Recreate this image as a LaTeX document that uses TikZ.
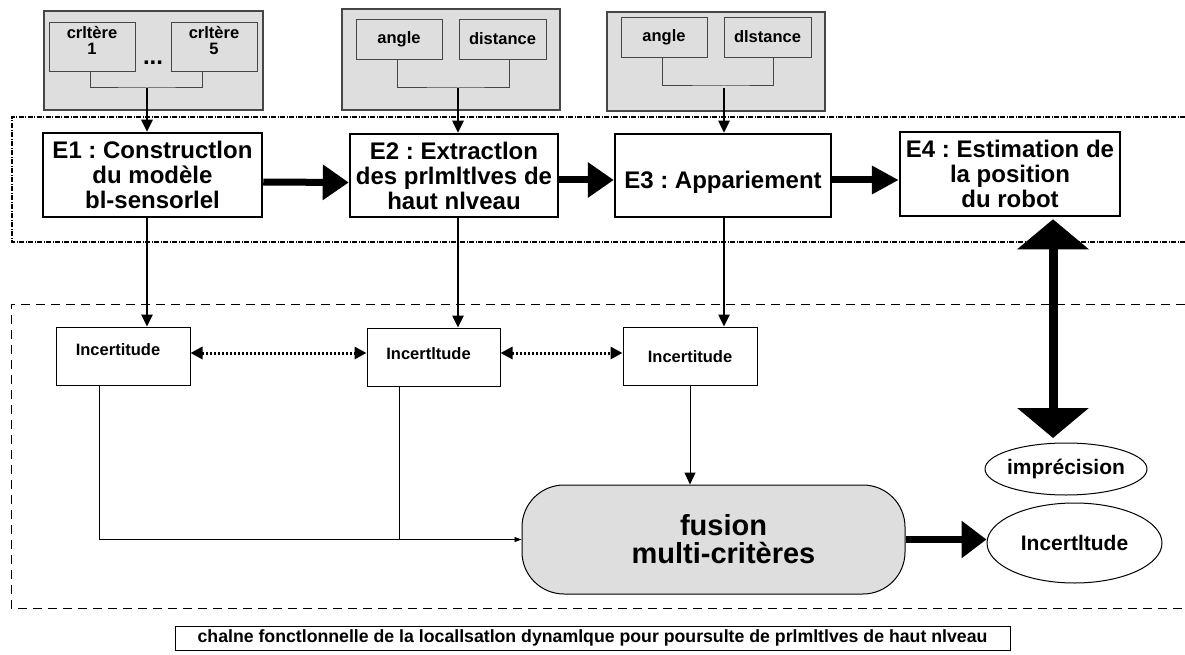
\documentclass[tikz,border=0pt]{standalone}
\usepackage{fontspec}
\setmainfont{Liberation Sans}
\usetikzlibrary{arrows.meta,shapes.geometric}
\definecolor{panelgray}{RGB}{222,222,222}
\definecolor{edgegray}{RGB}{70,70,70}
\begin{document}
\frenchspacing
\begin{tikzpicture}[x=1pt,y=-1pt,
  panel/.style={draw=edgegray,fill=panelgray,line width=1.2pt,inner sep=0pt},
  param/.style={draw=edgegray,fill=panelgray,line width=0.9pt,inner sep=0pt,align=center,
    font=\bfseries\fontsize{16.5}{17}\selectfont},
  stage/.style={draw,line width=2.5pt,fill=white,inner sep=0pt,align=center,
    font=\bfseries\fontsize{24}{25}\selectfont},
  unc/.style={draw,line width=1pt,fill=white,inner sep=0pt,minimum width=134pt,minimum height=58pt,
    font=\bfseries\fontsize{16.5}{17}\selectfont},
  oval/.style={draw,ellipse,line width=1pt,inner xsep=-12pt,inner ysep=0pt,
    font=\bfseries\fontsize{21}{21}\selectfont},
  link/.style={draw=edgegray,line width=1pt},
  feed/.style={line width=2.5pt,-{Triangle[length=12pt,width=11pt]}},
  flow/.style={line width=7pt,-{Triangle[length=26pt,width=34pt]}},
  dots/.style={line width=3pt,dash pattern=on 2.5pt off 1.5pt,
    {Triangle[length=12pt,width=12pt]}-{Triangle[length=12pt,width=12pt]}},
  merge/.style={line width=0.8pt,-{Triangle[length=7pt,width=5pt]}},
  feedthin/.style={line width=1pt,-{Triangle[length=12pt,width=11pt]}},
  bigflow/.style={line width=9pt,{Triangle[length=30pt,width=70pt]}-{Triangle[length=30pt,width=70pt]}},
  stagezone/.style={line width=1.1pt,dash pattern=on 5pt off 1.5pt on 1pt off 1.5pt},
  fusezone/.style={line width=0.8pt,dash pattern=on 9pt off 6pt}
]
\useasboundingbox (0,0) rectangle (1185,655);

% zones
\draw[stagezone] (1185,117) -- (12,117) -- (12,242) -- (1185,242);
\draw[fusezone] (1185,304) -- (11,304) -- (11,608) -- (1185,608);

% parameter panels
\node[panel,minimum width=219pt,minimum height=99pt] (g1) at (153.5,60.5) {};
\node[panel,minimum width=218pt,minimum height=101pt] (g2) at (451,59.5) {};
\node[panel,minimum width=218pt,minimum height=99pt] (g3) at (716,61.5) {};

\node[param,minimum width=86pt,minimum height=49pt] (c1) at (92,46.5)
  {\raisebox{-1pt}[0pt][0pt]{\begin{tabular}[c]{@{}c@{}}crltère\\[-1pt]1\end{tabular}}};
\node[param,minimum width=86pt,minimum height=49pt] (c5) at (214,46.5)
  {\raisebox{-1pt}[0pt][0pt]{\begin{tabular}[c]{@{}c@{}}crltère\\[-1pt]5\end{tabular}}};
\node[font=\bfseries\fontsize{24}{24}\selectfont,anchor=base,inner sep=0pt] (etc) at (153,65) {...};
\node[param,minimum width=86pt,minimum height=40pt] (a2) at (399,39) {angle};
\node[param,minimum width=87pt,minimum height=40pt] (d2) at (502.5,39) {distance};
\node[param,minimum width=86pt,minimum height=40pt] (a3) at (664,37) {angle};
\node[param,minimum width=87pt,minimum height=40pt] (d3) at (767.5,37) {dlstance};

\coordinate (j1) at (147,88);
\coordinate (j2) at (458,88);
\coordinate (j3) at (724,86);
\draw[link] ([xshift=-2pt]c1.south) |- (j1) -| ([xshift=-12pt]c5.south);
\draw[link] ([xshift=-2pt]a2.south) |- (j2) -| ([xshift=6.5pt]d2.south);
\draw[link] ([xshift=-2pt]a3.south) |- (j3) -| ([xshift=5.5pt]d3.south);

% processing stages
\node[stage,minimum width=219pt,minimum height=84pt] (E1) at (152.5,175) {E1 : Constructlon\\du modèle\\bl-sensorlel};
\node[stage,minimum width=208pt,minimum height=83pt] (E2) at (454,175.5) {E2 : Extractlon\\des prlmltlves de\\haut nlveau};
\node[stage,minimum width=216pt,minimum height=83pt] (E3) at (723,175.5) {\raisebox{-13pt}[0pt][0pt]{E3 : Appariement}};
\node[stage,minimum width=220pt,minimum height=84pt] (E4) at (1010,174) {E4 : Estimation de\\la position\\du robot};

\draw[feed] (j1) -- (j1 |- E1.north);
\draw[feed] (j2) -- (j2 |- E2.north);
\draw[feed] ([yshift=-2pt]j3) -- (j3 |- E3.north);

\draw[flow] ([yshift=-7pt]E1.east) -- ([yshift=-7pt]E2.west);
\draw[flow] ([yshift=-4.5pt]E2.east) -- ([yshift=-4.5pt]E3.west);
\draw[flow,-{Triangle[length=27pt,width=27pt]}] ([yshift=-4.5pt]E3.east) -- ([yshift=-6pt]E4.west);

% uncertainty of each stage
\node[unc] (I1) at (123,356) {\raisebox{1pt}[0pt][0pt]{Incertitude\hspace*{10pt}}};
\node[unc,minimum width=133pt] (I2) at (433.5,357) {\raisebox{-2pt}[0pt][0pt]{Incertltude\hspace*{10pt}}};
\node[unc] (I3) at (690,356) {\raisebox{-6pt}[0pt][0pt]{Incertitude}};

\draw[feed] (j1 |- E1.south) -- (j1 |- I1.north);
\draw[feed] (j2 |- E2.south) -- (j2 |- I2.north);
\draw[feed] (j3 |- E3.south) -- (j3 |- I3.north);

\draw[dots] ([yshift=3pt]I1.east) -- ([yshift=4pt]I2.west);
\draw[dots] ([yshift=4pt]I2.east) -- ([yshift=3pt]I3.west);

% fusion
\node[draw,line width=1pt,fill=panelgray,rounded corners=42pt,minimum width=383pt,minimum height=109pt,
  inner sep=0pt,align=center,font=\bfseries\fontsize{29}{28}\selectfont] (fusion) at (713.5,539.5)
  {\hspace*{20pt}fusion\\\hspace*{20pt}multi-critères};

\draw[merge] ([xshift=-24pt]I1.south) |- (fusion.west);
\draw[line width=0.8pt] ([xshift=-34.5pt]I2.south) -- ([xshift=-34.5pt]I2.south |- fusion.west);
\draw[feedthin] (I3.south) -- (I3.south |- fusion.north);

% results
\node[oval,minimum width=162pt,minimum height=52pt] (impr) at (1066,469) {imprécision};
\node[oval,minimum width=175pt,minimum height=80pt] (inc) at (1074.5,543) {Incertltude};

\draw[flow,-{Triangle[length=25pt,width=36pt]}] (fusion.east) -- (fusion.east -| inc.west);

\coordinate (bt) at (1053,438);
\draw[bigflow] ([xshift=43pt,yshift=-2pt]E4.south) -- (bt);

% caption
\node[draw,line width=0.8pt,minimum width=835pt,minimum height=24pt,inner sep=0pt,
  font=\bfseries\fontsize{17.7}{17.7}\selectfont] (cap) at (592.5,638)
  {chalne fonctlonnelle de la locallsatlon dynamlque pour poursulte de prlmltlves de haut nlveau};
\end{tikzpicture}
\end{document}
